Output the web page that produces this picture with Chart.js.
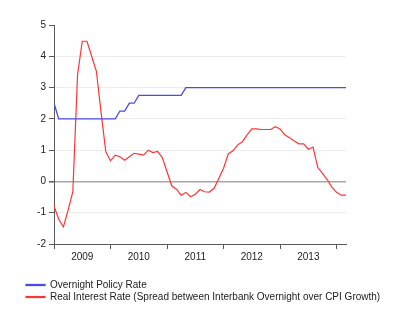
<!DOCTYPE html>
<html>
<head>
<meta charset="utf-8">
<script src="https://cdn.jsdelivr.net/npm/chart.js@4"></script>
<style>
  html, body { margin: 0; padding: 0; background: #fff; }
  #wrap { width: 400px; height: 323px; position: relative; }
</style>
</head>
<body>
<div id="wrap"><canvas id="chart"></canvas></div>
<script>
// Monthly data, Jan 2009 .. Mar 2014 (index 0 = Jan 2009)
const yearLabels = ['2009', '2010', '2011', '2012', '2013'];

const policyRate = [
  2.5, 2.0, 2.0, 2.0, 2.0, 2.0, 2.0, 2.0, 2.0, 2.0, 2.0, 2.0,
  2.0, 2.0, 2.25, 2.25, 2.5, 2.5, 2.75, 2.75, 2.75, 2.75, 2.75, 2.75,
  2.75, 2.75, 2.75, 2.75, 3.0, 3.0, 3.0, 3.0, 3.0, 3.0, 3.0, 3.0,
  3.0, 3.0, 3.0, 3.0, 3.0, 3.0, 3.0, 3.0, 3.0, 3.0, 3.0, 3.0,
  3.0, 3.0, 3.0, 3.0, 3.0, 3.0, 3.0, 3.0, 3.0, 3.0, 3.0, 3.0,
  3.0, 3.0, 3.0
];

const realRate = [
  -0.78, -1.21, -1.45, -0.92, -0.33, 3.41, 4.48, 4.48, 4.0, 3.52, 2.2, 0.95,
  0.66, 0.84, 0.79, 0.68, 0.79, 0.90, 0.87, 0.84, 1.0, 0.92, 0.96, 0.76,
  0.31, -0.14, -0.25, -0.44, -0.35, -0.49, -0.41, -0.26, -0.33, -0.34, -0.22, 0.1,
  0.42, 0.88, 0.98, 1.17, 1.27, 1.49, 1.68, 1.68, 1.66, 1.66, 1.66, 1.75,
  1.68, 1.49, 1.40, 1.29, 1.20, 1.20, 1.03, 1.10, 0.45, 0.26, 0.06, -0.18,
  -0.35, -0.44, -0.44
];

const toPoints = arr => arr.map((v, i) => ({ x: i, y: v }));

const axisColor = '#5a5a5a';
const textColor = '#222';
const font10 = { family: 'Liberation Sans', size: 10, lineHeight: 1 };

new Chart(document.getElementById('chart'), {
  type: 'line',
  data: {
    datasets: [{
      label: 'Overnight Policy Rate',
      data: toPoints(policyRate),
      borderColor: '#4a4ae8',
      backgroundColor: '#6a6af0',
      borderWidth: 1.3,
      pointRadius: 0,
      tension: 0
    }, {
      label: 'Real Interest Rate (Spread between Interbank Overnight over CPI Growth)',
      data: toPoints(realRate),
      borderColor: '#ff3535',
      backgroundColor: '#ff5050',
      borderWidth: 1.2,
      pointRadius: 0,
      tension: 0
    }]
  },
  options: {
    responsive: true,
    maintainAspectRatio: false,
    animation: false,
    layout: {
      padding: { left: 24, right: 0, top: 25, bottom: 11 }
    },
    scales: {
      x: {
        type: 'linear',
        min: 0,
        max: 62,
        afterBuildTicks: axis => {
          const ticks = [];
          for (let v = 0; v <= 60; v += 6) ticks.push({ value: v });
          axis.ticks = ticks;
        },
        afterFit: axis => { axis.height += 13; },
        ticks: {
          autoSkip: false,
          maxRotation: 0,
          color: textColor,
          font: font10,
          padding: 3,
          callback: v => (v % 12 === 6 ? yearLabels[(v - 6) / 12] : '')
        },
        grid: {
          drawOnChartArea: false,
          tickLength: 5,
          tickColor: ctx => (ctx.tick && ctx.tick.value % 12 === 0 ? axisColor : 'rgba(0,0,0,0)')
        },
        border: { display: true, color: axisColor, width: 1 }
      },
      y: {
        min: -2,
        max: 5,
        afterFit: axis => { axis.width = 30; },
        ticks: {
          stepSize: 1,
          color: textColor,
          font: font10,
          padding: 3
        },
        grid: {
          tickLength: 5,
          tickColor: axisColor,
          color: ctx => {
            const v = ctx.tick ? ctx.tick.value : null;
            if (v === 0) return '#a6a6a6';
            if (v === 5 || v === -2) return 'rgba(0,0,0,0)';
            return '#ececec';
          },
          lineWidth: ctx => (ctx.tick && ctx.tick.value === 0 ? 1.5 : 1)
        },
        border: { display: true, color: axisColor, width: 1 }
      },
      // empty right margin so the plot stops short of the legend's width
      spacer: {
        position: 'right',
        min: 0,
        max: 1,
        afterFit: axis => { axis.width = 54; },
        ticks: { display: false },
        grid: { display: false },
        border: { display: false }
      }
    },
    plugins: {
      legend: {
        position: 'bottom',
        align: 'start',
        labels: {
          boxWidth: 19,
          boxHeight: 1,
          padding: 2,
          color: textColor,
          font: font10
        }
      },
      tooltip: { enabled: false }
    }
  }
});
</script>
</body>
</html>
